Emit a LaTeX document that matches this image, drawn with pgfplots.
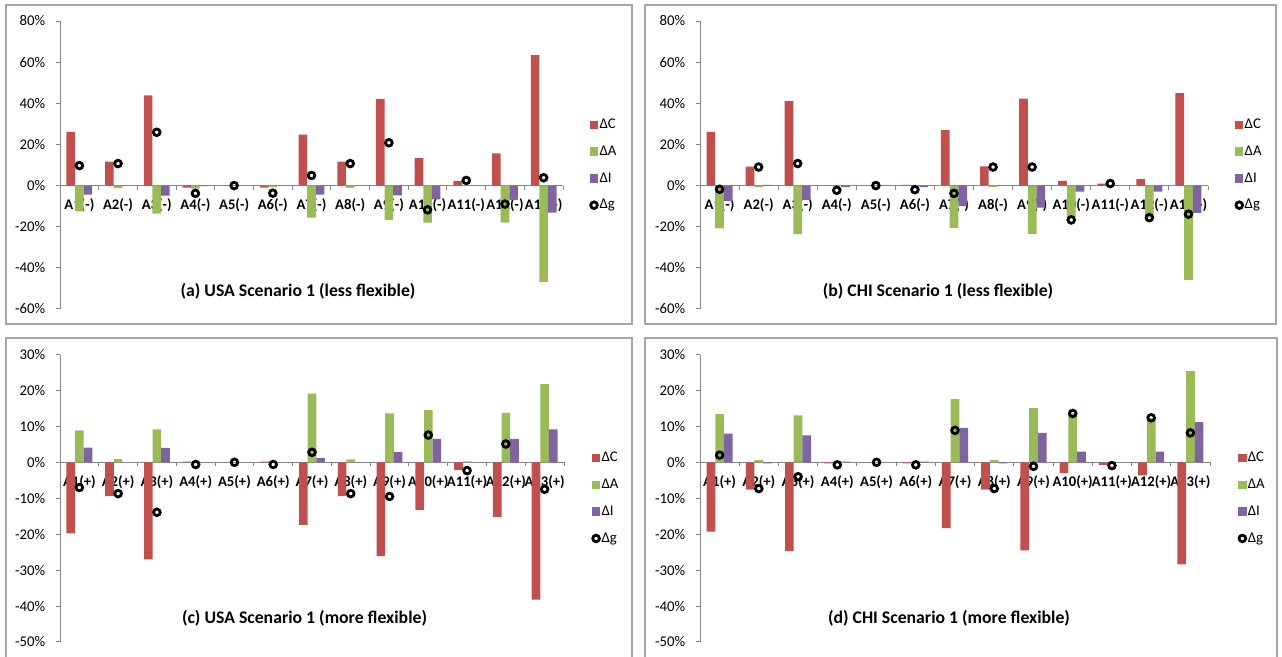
\documentclass[border=0pt]{standalone}
\usepackage{pgfplots}
\pgfplotsset{compat=1.18}
\usepackage{pgfplotstable}
\usepackage{fontspec}
\setmainfont{Carlito}

\definecolor{dC}{HTML}{C0504D}
\definecolor{dA}{HTML}{9BBB59}
\definecolor{dI}{HTML}{8064A2}
\definecolor{axisgray}{HTML}{868686}
\definecolor{framegray}{HTML}{A6A6A6}

% changes in percent: x = activity index (0 = A1 ... 12 = A13)
\pgfplotstableread{
x C A I g
0 26.1 -12.6 -4.4 9.7
1 11.6 -1.2 -0.2 10.7
2 43.8 -13.6 -4.9 25.9
3 -1.0 -1.5 -0.3 -3.8
4 0 0 0 0
5 -1.0 -0.8 -0.2 -3.7
6 24.8 -15.6 -4.4 4.9
7 11.6 -1.1 -0.1 10.7
8 42.1 -16.7 -4.8 20.8
9 13.3 -18.0 -6.7 -11.8
10 2.1 -0.3 -0.1 2.5
11 15.7 -18.0 -7.0 -9.0
12 63.4 -46.9 -13.1 3.8
}\usaless

\pgfplotstableread{
x C A I g
0 26.1 -20.8 -7.4 -1.8
1 9.2 -0.8 0.3 9.0
2 41.1 -23.6 -7.0 10.7
3 0.1 -0.3 -0.8 -2.3
4 0 0 0 0
5 0.3 -0.3 -0.8 -2.0
6 27.0 -20.7 -10.0 -3.8
7 9.3 -0.8 0.2 9.0
8 42.3 -23.6 -10.7 9.0
9 2.3 -15.5 -3.0 -16.7
10 1.0 -0.2 -0.1 1.0
11 3.1 -15.6 -3.0 -15.6
12 44.9 -45.9 -13.3 -13.9
}\chiless

\pgfplotstableread{
x C A I g
0 -19.8 8.9 4.1 -7.0
1 -9.4 0.9 0.0 -8.7
2 -27.0 9.2 4.0 -13.9
3 0.2 0.1 0.0 -0.6
4 0 0 0 0
5 0.2 0.1 0.0 -0.6
6 -17.4 19.1 1.2 2.8
7 -9.4 0.8 0.0 -8.7
8 -26.1 13.6 2.9 -9.5
9 -13.2 14.5 6.5 7.6
10 -2.1 0.3 0.0 -2.3
11 -15.2 13.8 6.5 5.1
12 -38.2 21.8 9.2 -7.5
}\usamore

\pgfplotstableread{
x C A I g
0 -19.3 13.4 8.0 2.0
1 -7.6 0.6 -0.3 -7.3
2 -24.7 13.1 7.5 -4.0
3 -0.3 0.0 0.2 -0.7
4 0 0 0 0
5 -0.3 0.0 0.2 -0.7
6 -18.3 17.6 9.6 8.9
7 -7.6 0.6 -0.3 -7.3
8 -24.5 15.1 8.2 -1.1
9 -2.9 13.6 3.0 13.6
10 -0.7 0.0 0.0 -0.9
11 -3.6 12.4 3.0 12.4
12 -28.4 25.4 11.2 8.2
}\chimore

\pgfplotsset{
  barleg/.style={legend image code/.code={\fill[##1] (0pt,-3.2pt) rectangle (6.2pt,3.2pt);}},
  markleg/.style={legend image code/.code={\draw[##1] plot coordinates {(3.1pt,0pt)};}},
  panel/.style={
    set layers,
    scale only axis,
    xmin=-0.5, xmax=12.5,
    axis x line*=middle,
    axis y line*=left,
    hide obscured x ticks=false,
    axis line style={axisgray, line width=0.75pt},
    tick align=outside,
    major tick length=3pt,
    tick style={axisgray, line width=0.75pt},
    % category ticks sit between the groups, names centred under each group
    xtick={-0.5,0.5,...,12.5},
    x tick label as interval,
    xticklabel style={font=\bfseries\fontsize{11}{13}\selectfont, text=black, yshift=-3.5pt},
    yticklabel style={font=\fontsize{11.1}{13}\selectfont, text=black, xshift=-4.5pt},
    legend style={draw=none, fill=none, anchor=west,
      font=\fontsize{11.1}{13}\selectfont,
      nodes={inner sep=1pt, text height=8pt, text depth=2.5pt},
      row sep=7.6pt},
    legend cell align=left,
  },
  toprow/.style={
    ymin=-60, ymax=80,
    ytick={-60,-40,...,80},
    yticklabels={-60\%,-40\%,-20\%,0\%,20\%,40\%,60\%,80\%},
    xticklabels={A1(-),A2(-),A3(-),A4(-),A5(-),A6(-),A7(-),A8(-),A9(-),A10(-),A11(-),A12(-),A13(-)},
    height=216pt,
  },
  bottomrow/.style={
    ymin=-50, ymax=30,
    ytick={-50,-40,...,30},
    yticklabels={-50\%,-40\%,-30\%,-20\%,-10\%,0\%,10\%,20\%,30\%},
    xticklabels={A1(+),A2(+),A3(+),A4(+),A5(+),A6(+),A7(+),A8(+),A9(+),A10(+),A11(+),A12(+),A13(+)},
    height=215.6pt,
  },
  sC/.style={ybar, bar width=0.2222, bar shift=-0.2222, fill=dC, draw=none, barleg},
  sA/.style={ybar, bar width=0.2222, bar shift=0, fill=dA, draw=none, barleg},
  sI/.style={ybar, bar width=0.2222, bar shift=0.2222, fill=dI, draw=none, barleg},
  sg/.style={only marks, mark=o, mark size=2.5pt, mark options={line width=2.1pt, draw=black}, draw=black, markleg},
}

\begin{document}
\begin{tikzpicture}

% (a)
\begin{axis}[panel, toprow, at={(45pt,261pt)}, anchor=south west, width=377.25pt,
  legend style={at={(1.045,0.5)}}]
  \addplot[sC] table[x=x,y=C]{\usaless};
  \addplot[sA] table[x=x,y=A]{\usaless};
  \addplot[sI] table[x=x,y=I]{\usaless};
  \addplot[sg] table[x=x,y=g]{\usaless};
  \legend{ΔC,ΔA,ΔI,Δg}
\end{axis}

% (b)
\begin{axis}[panel, toprow, at={(525pt,261pt)}, anchor=south west, width=381pt,
  legend style={at={(1.045,0.5)}}]
  \addplot[sC] table[x=x,y=C]{\chiless};
  \addplot[sA] table[x=x,y=A]{\chiless};
  \addplot[sI] table[x=x,y=I]{\chiless};
  \addplot[sg] table[x=x,y=g]{\chiless};
  \legend{ΔC,ΔA,ΔI,Δg}
\end{axis}

% (c)
\begin{axis}[panel, bottomrow, at={(45pt,11.25pt)}, anchor=south west, width=378pt,
  legend style={at={(1.047,0.5)}}]
  \addplot[sC] table[x=x,y=C]{\usamore};
  \addplot[sA] table[x=x,y=A]{\usamore};
  \addplot[sI] table[x=x,y=I]{\usamore};
  \addplot[sg] table[x=x,y=g]{\usamore};
  \legend{ΔC,ΔA,ΔI,Δg}
\end{axis}

% (d)
\begin{axis}[panel, bottomrow, at={(525pt,11.25pt)}, anchor=south west, width=382.5pt,
  legend style={at={(1.047,0.5)}}]
  \addplot[sC] table[x=x,y=C]{\chimore};
  \addplot[sA] table[x=x,y=A]{\chimore};
  \addplot[sI] table[x=x,y=I]{\chimore};
  \addplot[sg] table[x=x,y=g]{\chimore};
  \legend{ΔC,ΔA,ΔI,Δg}
\end{axis}

% chart frames
\draw[framegray, line width=0.8pt] (4.5pt,249.75pt) rectangle (474pt,489pt);
\draw[framegray, line width=0.8pt] (483.75pt,249.75pt) rectangle (957pt,489pt);
\draw[framegray, line width=0.8pt] (4.5pt,0pt) -- (4.5pt,239.25pt) -- (474pt,239.25pt) -- (474pt,0pt);
\draw[framegray, line width=0.8pt] (483.75pt,0pt) -- (483.75pt,239.25pt) -- (957.75pt,239.25pt) -- (957.75pt,0pt);

% panel titles
\begin{scope}[every node/.style={font=\bfseries\fontsize{13.3}{16}\selectfont}]
\node at (223.5pt,274.5pt) {(a) USA Scenario 1 (less flexible)};
\node at (703.5pt,274.5pt) {(b) CHI Scenario 1 (less flexible)};
\node at (228.4pt,29.25pt) {(c) USA Scenario 1 (more flexible)};
\node at (711.75pt,29.25pt) {(d) CHI Scenario 1 (more flexible)};
\end{scope}

% fixed page size
\pgfresetboundingbox
\path[use as bounding box] (0pt,0pt) rectangle (961.5pt,492.75pt);
\end{tikzpicture}
\end{document}
